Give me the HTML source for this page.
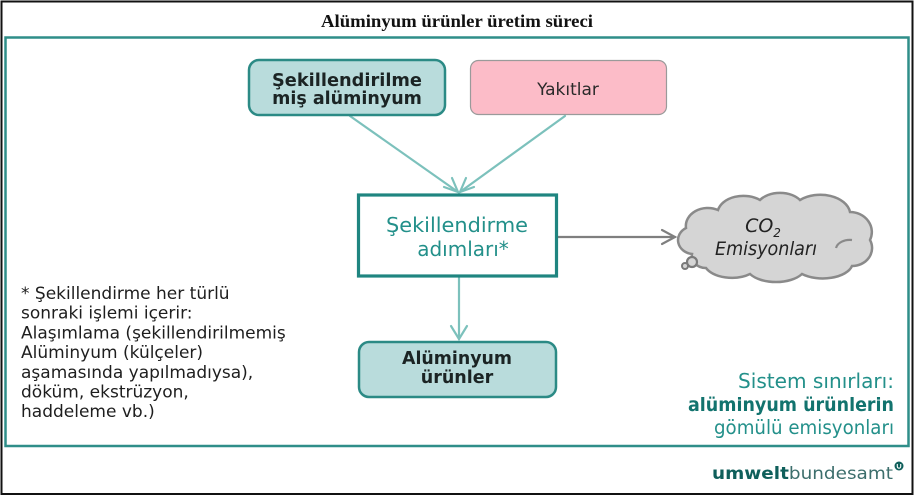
<!DOCTYPE html>
<html>
<head>
<meta charset="utf-8">
<style>
  html, body { margin:0; padding:0; background:#fff; }
  body { width:915px; height:497px; overflow:hidden; }
  svg { display:block; }
  .v { font-family: "DejaVu Sans", "Liberation Sans", sans-serif; }
</style>
</head>
<body>
<svg width="915" height="497" viewBox="0 0 915 497" xmlns="http://www.w3.org/2000/svg">
  <rect x="0" y="0" width="915" height="497" fill="#fff"/>
  <!-- outer black border -->
  <rect x="1.5" y="1.5" width="911" height="492.5" fill="none" stroke="#111" stroke-width="2"/>
  <!-- title -->
  <text x="457" y="27" text-anchor="middle" font-family="'Liberation Serif', serif" font-weight="bold" font-size="18" textLength="272" lengthAdjust="spacingAndGlyphs" fill="#111">Alüminyum ürünler üretim süreci</text>
  <!-- teal system boundary -->
  <rect x="5.5" y="37.5" width="903" height="408.5" fill="none" stroke="#2f8e89" stroke-width="2.5"/>

  <!-- connectors -->
  <g stroke="#7cc1bc" stroke-width="2.2" fill="none" stroke-linecap="round">
    <line x1="350" y1="116" x2="458" y2="192"/>
    <line x1="565" y1="116" x2="460" y2="192"/>
    <polyline points="444,187 458,192 452,178"/>
    <polyline points="474,187 460,192 466,178"/>
    <line x1="459" y1="278" x2="459" y2="339"/>
    <polyline points="451,326 459,339 467,326"/>
  </g>
  <g stroke="#7f7f7f" stroke-width="2.2" fill="none" stroke-linecap="round">
    <line x1="558" y1="237" x2="675" y2="237"/>
    <polyline points="662,230 675,237 662,244"/>
  </g>

  <!-- box: Şekillendirilmemiş alüminyum -->
  <rect x="249" y="60" width="196" height="55" rx="10" ry="10" fill="#b9dcdc" stroke="#2b8a85" stroke-width="2.5"/>
  <text class="v" x="347" y="86" text-anchor="middle" font-weight="bold" font-size="17.5" fill="#1b2424" textLength="150" lengthAdjust="spacingAndGlyphs">Şekillendirilme</text>
  <text class="v" x="347" y="104" text-anchor="middle" font-weight="bold" font-size="17.5" fill="#1b2424">miş alüminyum</text>

  <!-- box: Yakıtlar -->
  <rect x="470.5" y="60.5" width="196" height="54" rx="8" ry="8" fill="#fcbcc8" stroke="#9a9a9a" stroke-width="1.2"/>
  <text class="v" x="568" y="95" text-anchor="middle" font-size="17" fill="#2a2a2a">Yakıtlar</text>

  <!-- box: Şekillendirme adımları* -->
  <rect x="358.5" y="195" width="198" height="81" fill="#fff" stroke="#1f8580" stroke-width="3.2"/>
  <text class="v" x="457" y="232" text-anchor="middle" font-size="20" fill="#23908a" textLength="142" lengthAdjust="spacingAndGlyphs">Şekillendirme</text>
  <text class="v" x="463" y="256" text-anchor="middle" font-size="20" fill="#23908a">adımları*</text>

  <!-- box: Alüminyum ürünler -->
  <rect x="359" y="342" width="197" height="55" rx="10" ry="10" fill="#b9dcdc" stroke="#2b8a85" stroke-width="2.5"/>
  <text class="v" x="457" y="364" text-anchor="middle" font-weight="bold" font-size="17.5" fill="#1b2424" textLength="110" lengthAdjust="spacingAndGlyphs">Alüminyum</text>
  <text class="v" x="457" y="383" text-anchor="middle" font-weight="bold" font-size="17.5" fill="#1b2424">ürünler</text>

  <!-- cloud -->
  <path d="M 692 254
           a 16 14 0 0 1 -6 -26
           a 22 18 0 0 1 32 -18
           a 26 18 0 0 1 42 -10
           a 24 16 0 0 1 40 0
           a 30 20 0 0 1 50 12
           a 22 20 0 0 1 20 28
           a 20 18 0 0 1 -18 26
           a 30 16 0 0 1 -50 8
           a 30 16 0 0 1 -52 0
           a 28 16 0 0 1 -44 -6
           a 14 12 0 0 1 -14 -14 Z"
        fill="#d5d5d5" stroke="#8a8a8a" stroke-width="2.5"/>
  <path d="M 836 248 a 14 10 0 0 1 16 -8" fill="none" stroke="#8a8a8a" stroke-width="2.2"/>
  <circle cx="692" cy="262" r="5" fill="#d5d5d5" stroke="#7a7a7a" stroke-width="2.2"/>
  <circle cx="685" cy="266" r="3" fill="#d5d5d5" stroke="#7a7a7a" stroke-width="2"/>
  <text class="v" x="763" y="232" text-anchor="middle" font-size="19" font-style="italic" fill="#222">CO<tspan font-size="12" dy="5">2</tspan></text>
  <text class="v" x="766" y="255" text-anchor="middle" font-size="19" font-style="italic" fill="#222" textLength="102" lengthAdjust="spacingAndGlyphs">Emisyonları</text>

  <!-- footnote text -->
  <g class="v" font-size="17" fill="#1e1e1e">
    <text x="21" y="299">* Şekillendirme her türlü</text>
    <text x="21" y="318.7">sonraki işlemi içerir:</text>
    <text x="21" y="338.4">Alaşımlama (şekillendirilmemiş</text>
    <text x="21" y="358">Alüminyum (külçeler)</text>
    <text x="21" y="377.8">aşamasında yapılmadıysa),</text>
    <text x="21" y="397.5">döküm, ekstrüzyon,</text>
    <text x="21" y="417">haddeleme vb.)</text>
  </g>

  <!-- system boundary label -->
  <text class="v" x="894" y="388" text-anchor="end" font-size="20" fill="#23908a" textLength="156" lengthAdjust="spacingAndGlyphs">Sistem sınırları:</text>
  <text class="v" x="894" y="411" text-anchor="end" font-size="19" font-weight="bold" fill="#12736e" textLength="206" lengthAdjust="spacingAndGlyphs">alüminyum ürünlerin</text>
  <text class="v" x="894" y="434" text-anchor="end" font-size="19.5" fill="#23908a" textLength="180" lengthAdjust="spacingAndGlyphs">gömülü emisyonları</text>

  <!-- logo -->
  <text class="v" x="712" y="479" font-size="17" fill="#3c6e6c" textLength="181" lengthAdjust="spacingAndGlyphs"><tspan font-weight="bold" fill="#0f5f5b">umwelt</tspan>bundesamt</text>
  <circle cx="899" cy="466" r="4.5" fill="#0f5f5b"/>
  <path d="M 897.3 464 v 2.5 a 1.7 1.7 0 0 0 3.4 0 v -2.5" fill="none" stroke="#fff" stroke-width="1.1"/>
</svg>
</body>
</html>
